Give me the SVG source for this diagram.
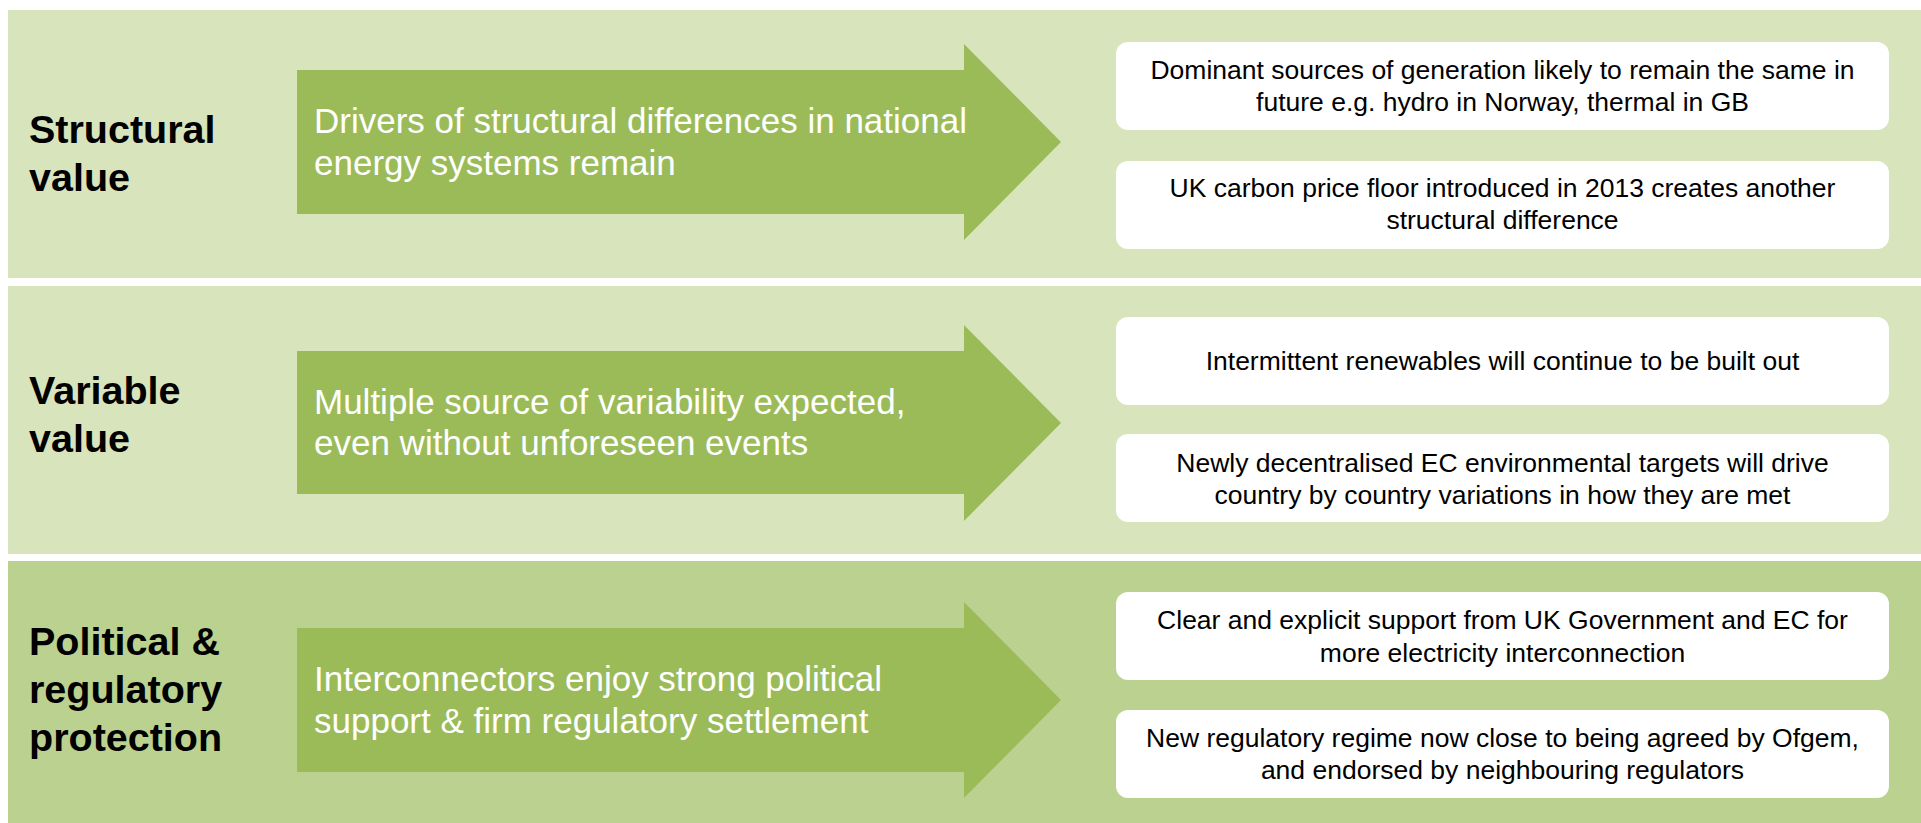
<svg xmlns="http://www.w3.org/2000/svg" width="1921" height="823" viewBox="0 0 1921 823">
  <style>
    .band-light { fill: #D8E4BC; }
    .band-dark { fill: #BBD18F; }
    .arrow { fill: #9BBB59; }
    .card { fill: #FFFFFF; }
    .label { font-family: "Liberation Sans", Arial, sans-serif; font-weight: bold; font-size: 39.5px; fill: #000000; }
    .driver { font-family: "Liberation Sans", Arial, sans-serif; font-size: 35px; fill: #FFFFFF; }
    .note { font-family: "Liberation Sans", Arial, sans-serif; font-size: 26.5px; fill: #000000; text-anchor: middle; }
  </style>
  <rect x="0" y="0" width="1921" height="823" fill="#FFFFFF"/>

  <!-- Row 1: structural value -->
  <g id="row-structural">
    <rect class="band-light" x="8" y="10" width="1913" height="268"/>
    <g id="label-structural">
      <text class="label" x="29" y="143">Structural</text>
      <text class="label" x="29" y="191">value</text>
    </g>
    <g id="arrow-structural">
      <polygon class="arrow" points="297,70 964,70 964,44 1061,142 964,240 964,214 297,214"/>
      <text class="driver" x="314" y="133">Drivers of structural differences in national</text>
      <text class="driver" x="314" y="175">energy systems remain</text>
    </g>
    <g id="card-structural-1">
      <rect class="card" x="1116" y="42" width="773" height="88" rx="12"/>
      <text class="note" x="1502.5" y="79">Dominant sources of generation likely to remain the same in</text>
      <text class="note" x="1502.5" y="111">future e.g. hydro in Norway, thermal in GB</text>
    </g>
    <g id="card-structural-2">
      <rect class="card" x="1116" y="161" width="773" height="88" rx="12"/>
      <text class="note" x="1502.5" y="197">UK carbon price floor introduced in 2013 creates another</text>
      <text class="note" x="1502.5" y="229">structural difference</text>
    </g>
  </g>

  <!-- Row 2: variable value -->
  <g id="row-variable">
    <rect class="band-light" x="8" y="286" width="1913" height="268"/>
    <g id="label-variable">
      <text class="label" x="29" y="404">Variable</text>
      <text class="label" x="29" y="452">value</text>
    </g>
    <g id="arrow-variable">
      <polygon class="arrow" points="297,351 964,351 964,325 1061,423 964,521 964,494 297,494"/>
      <text class="driver" x="314" y="414">Multiple source of variability expected,</text>
      <text class="driver" x="314" y="455">even without unforeseen events</text>
    </g>
    <g id="card-variable-1">
      <rect class="card" x="1116" y="317" width="773" height="88" rx="12"/>
      <text class="note" x="1502.5" y="370">Intermittent renewables will continue to be built out</text>
    </g>
    <g id="card-variable-2">
      <rect class="card" x="1116" y="434" width="773" height="88" rx="12"/>
      <text class="note" x="1502.5" y="472">Newly decentralised EC environmental targets will drive</text>
      <text class="note" x="1502.5" y="504">country by country variations in how they are met</text>
    </g>
  </g>

  <!-- Row 3: political & regulatory protection -->
  <g id="row-political">
    <rect class="band-dark" x="8" y="561" width="1913" height="262"/>
    <g id="label-political">
      <text class="label" x="29" y="655">Political &amp;</text>
      <text class="label" x="29" y="703">regulatory</text>
      <text class="label" x="29" y="751">protection</text>
    </g>
    <g id="arrow-political">
      <polygon class="arrow" points="297,628 964,628 964,602 1061,700 964,798 964,772 297,772"/>
      <text class="driver" x="314" y="691">Interconnectors enjoy strong political</text>
      <text class="driver" x="314" y="733">support &amp; firm regulatory settlement</text>
    </g>
    <g id="card-political-1">
      <rect class="card" x="1116" y="592" width="773" height="88" rx="12"/>
      <text class="note" x="1502.5" y="629">Clear and explicit support from UK Government and EC for</text>
      <text class="note" x="1502.5" y="662">more electricity interconnection</text>
    </g>
    <g id="card-political-2">
      <rect class="card" x="1116" y="710" width="773" height="88" rx="12"/>
      <text class="note" x="1502.5" y="747">New regulatory regime now close to being agreed by Ofgem,</text>
      <text class="note" x="1502.5" y="779">and endorsed by neighbouring regulators</text>
    </g>
  </g>

  <!-- No connecting lines: each row reads left to right through its arrow -->
  <g id="connectors"/>
</svg>
